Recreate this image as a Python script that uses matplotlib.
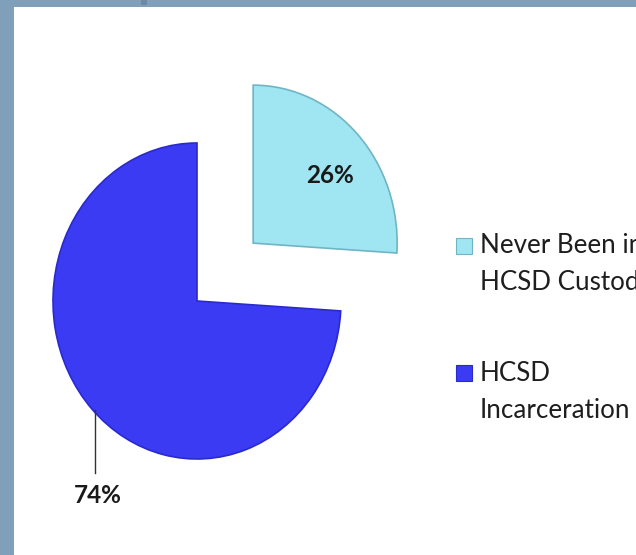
import numpy as np
import matplotlib
matplotlib.use("Agg")
import matplotlib.pyplot as plt
from matplotlib.patches import Rectangle

# Data
categories = ["Never Been in\nHCSD Custody", "HCSD\nIncarceration"]
shares = [26, 74]
colors = ["#a0e5f2", "#3b3bf4"]
edge_colors = ["#6fb5c6", "#2a2acc"]

W, H = 636, 555
fig = plt.figure(figsize=(W / 100, H / 100), dpi=100, facecolor="#7f9fbb")

# Slide-style backdrop in pixel coordinates
bg = fig.add_axes([0, 0, 1, 1])
bg.set_xlim(0, W)
bg.set_ylim(H, 0)
bg.axis("off")
bg.add_patch(Rectangle((14, 7), W - 14, H - 7, facecolor="white", edgecolor="none"))
bg.add_patch(Rectangle((141, 0), 6, 5, facecolor="#6b8aa8", edgecolor="none"))

# Pie axes: elliptical pie centred at (cx, cy) pixels
cx, cy, rx, ry = 197, 301, 144, 158
ax = fig.add_axes([0, 0, 1, 1])
ax.patch.set_alpha(0)
wedges, _ = ax.pie(
    shares, colors=colors, startangle=90, counterclock=False,
    explode=[0.535, 0], radius=1,
    wedgeprops=dict(linewidth=1.2),
)
for w, ec in zip(wedges, edge_colors):
    w.set_edgecolor(ec)
ax.set_aspect("auto")
ax.set_xlim(-cx / rx, (W - cx) / rx)
ax.set_ylim(-(H - cy) / ry, cy / ry)
ax.axis("off")

font = "Lato"

# Percentage labels
w0 = wedges[0]
mid0 = np.deg2rad((w0.theta1 + w0.theta2) / 2)
c0 = w0.center
ax.text(c0[0] + 0.73 * np.cos(mid0), c0[1] + 0.64 * np.sin(mid0) - 0.06,
        f"{shares[0]}%", ha="center", va="baseline", fontsize=17.5,
        fontweight="bold", family=font, color="#1a1a1a")

# Outside label with leader line for the large slice
ang = np.deg2rad(225)
px = np.cos(ang)
ax.plot([px, px], [np.sin(ang) * 0.98, (cy - 473) / ry], color="#333333", lw=1.0)
ax.text(px + 0.015, (cy - 503) / ry, f"{shares[1]}%", ha="center", va="baseline",
        fontsize=17.5, fontweight="bold", family=font, color="#1a1a1a")

# Legend drawn at the right edge
legend_rows = [(238, [253, 290]), (365, [381, 418])]
for (sq_top, baselines), label, col, ec in zip(legend_rows, categories, colors, edge_colors):
    bg.add_patch(Rectangle((456, sq_top), 16, 16, facecolor=col, edgecolor=ec, lw=0.8))
    for line, b in zip(label.split("\n"), baselines):
        bg.text(480, b, line, ha="left", va="baseline", fontsize=18.7,
                family=font, color="#1e1e1e")

fig.savefig("out.png", dpi=100, facecolor=fig.get_facecolor())
